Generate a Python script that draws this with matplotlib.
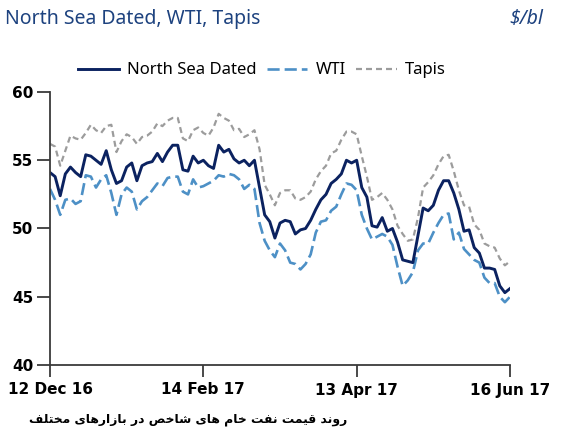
import numpy as np
import matplotlib
matplotlib.use("Agg")
import matplotlib.pyplot as plt

# ---------------------------------------
# Data ($/bl)
# ---------------------------------------
dates = ["12 Dec 16", "14 Feb 17", "13 Apr 17", "16 Jun 17"]
date_pos = [0, 30, 60, 90]

north_sea = [54.1, 53.8, 52.4, 54.0, 54.5, 54.1, 53.8, 55.4, 55.3, 55.0,
             54.7, 55.7, 54.3, 53.3, 53.5, 54.5, 54.8, 53.5, 54.6, 54.8,
             54.9, 55.5, 54.9, 55.6, 56.1, 56.1, 54.3, 54.2, 55.3, 54.8,
             55.0, 54.6, 54.4, 56.1, 55.6, 55.8, 55.1, 54.8, 55.0, 54.6,
             55.0, 53.0, 51.0, 50.5, 49.3, 50.4, 50.6, 50.5, 49.6, 49.9,
             50.0, 50.6, 51.4, 52.1, 52.5, 53.3, 53.6, 54.0, 55.0, 54.8,
             55.0, 53.0, 52.3, 50.2, 50.1, 50.8, 49.8, 50.0, 49.0, 47.7,
             47.6, 47.5, 49.5, 51.5, 51.3, 51.7, 52.8, 53.5, 53.5, 52.6,
             51.4, 49.8, 49.9, 48.6, 48.2, 47.1, 47.1, 47.0, 45.8, 45.3,
             45.6]

wti = [52.9, 52.1, 51.0, 52.1, 52.2, 51.8, 52.0, 53.9, 53.8, 53.0,
       53.6, 53.9, 52.6, 51.0, 52.5, 53.0, 52.7, 51.4, 52.0, 52.3,
       52.8, 53.3, 53.1, 53.7, 53.8, 53.8, 52.7, 52.5, 53.6, 53.0,
       53.1, 53.3, 53.5, 53.9, 53.8, 54.0, 53.9, 53.6, 52.9, 53.2,
       52.9, 50.4, 49.1, 48.4, 47.9, 48.9, 48.4, 47.5, 47.4, 47.0,
       47.4, 48.1, 49.7, 50.5, 50.6, 51.3, 51.6, 52.5, 53.3, 53.2,
       52.8, 51.0, 50.0, 49.2, 49.4, 49.6, 49.4, 48.8, 47.2, 45.8,
       46.2, 46.8, 48.4, 48.9, 48.9, 49.7, 50.4, 51.0, 51.1, 49.2,
       49.7, 48.5, 48.1, 47.7, 47.5, 46.4, 46.0, 46.0, 45.0, 44.6,
       45.0]

tapis = [56.2, 56.0, 54.6, 55.7, 56.8, 56.6, 56.5, 57.0, 57.6, 57.2,
         57.0, 57.5, 57.6, 55.6, 56.4, 56.9, 56.7, 56.2, 56.7, 56.8,
         57.1, 57.7, 57.5, 57.9, 58.1, 58.1, 56.6, 56.4, 57.2, 57.4,
         57.0, 56.8, 57.4, 58.4, 58.1, 57.9, 57.2, 57.3, 56.7, 56.9,
         57.2, 55.8, 53.2, 52.5, 51.7, 52.6, 52.8, 52.8, 52.2, 52.1,
         52.3, 52.7, 53.6, 54.2, 54.6, 55.5, 55.7, 56.5, 57.1, 57.1,
         56.9, 55.3, 53.8, 52.1, 52.3, 52.6, 52.1, 51.4, 50.2, 49.6,
         49.1, 49.2, 50.8, 53.0, 53.4, 53.9, 54.7, 55.3, 55.4, 54.2,
         52.8, 51.7, 51.6, 50.3, 49.9, 48.9, 48.7, 48.6, 47.8, 47.3,
         47.6]

title = "North Sea Dated, WTI, Tapis"
unit = "\\$/bl"
caption = "روند قیمت نفت خام های شاخص در بازارهای مختلف"

# ---------------------------------------
# Persian shaping (matplotlib has no RTL / joining)
# iso, fin, ini, med
# ---------------------------------------
FORMS = {
    'ا': ('\ufe8d', '\ufe8e'),
    'ب': ('\ufe8f', '\ufe90', '\ufe91', '\ufe92'),
    'ت': ('\ufe95', '\ufe96', '\ufe97', '\ufe98'),
    'خ': ('\ufea5', '\ufea6', '\ufea7', '\ufea8'),
    'د': ('\ufea9', '\ufeaa'),
    'ر': ('\ufead', '\ufeae'),
    'ز': ('\ufeaf', '\ufeb0'),
    'ش': ('\ufeb5', '\ufeb6', '\ufeb7', '\ufeb8'),
    'ص': ('\ufeb9', '\ufeba', '\ufebb', '\ufebc'),
    'ف': ('\ufed1', '\ufed2', '\ufed3', '\ufed4'),
    'ق': ('\ufed5', '\ufed6', '\ufed7', '\ufed8'),
    'ل': ('\ufedd', '\ufede', '\ufedf', '\ufee0'),
    'م': ('\ufee1', '\ufee2', '\ufee3', '\ufee4'),
    'ن': ('\ufee5', '\ufee6', '\ufee7', '\ufee8'),
    'ه': ('\ufee9', '\ufeea', '\ufeeb', '\ufeec'),
    'و': ('\ufeed', '\ufeee'),
    'ی': ('\ufbfc', '\ufbfd', '\ufbfe', '\ufbff'),
}


def shape_rtl(text):
    out = []
    for k, ch in enumerate(text):
        if ch not in FORMS:
            out.append(ch)
            continue
        prev = text[k - 1] if k > 0 else ' '
        nxt = text[k + 1] if k + 1 < len(text) else ' '
        f = FORMS[ch]
        join_prev = prev in FORMS and len(FORMS[prev]) == 4
        join_next = len(f) == 4 and nxt in FORMS
        if join_prev and join_next:
            out.append(f[3])
        elif join_prev:
            out.append(f[1])
        elif join_next:
            out.append(f[2])
        else:
            out.append(f[0])
    return ''.join(reversed(out))


plt.rcParams['font.family'] = ['Noto Sans', 'DejaVu Sans']

navy = '#0b2260'
blue = '#4d90c6'
grey = '#9c9c9c'
title_col = '#1d427f'
axis_col = '#3a3a3a'

fig = plt.figure(figsize=(5.76, 4.42), dpi=100)
ax = fig.add_axes([50 / 576, 1 - 365 / 442, 460 / 576, 273 / 442])

x = np.arange(len(north_sea))
l_tap, = ax.plot(x, tapis, color=grey, lw=1.6, dashes=(2.7, 1.8))
l_wti, = ax.plot(x, wti, color=blue, lw=1.9, dashes=(4.6, 1.9))
l_nsd, = ax.plot(x, north_sea, color=navy, lw=2.1)

ax.set_xlim(0, len(north_sea) - 1)
ax.set_ylim(40, 60)
ax.set_yticks([40, 45, 50, 55, 60])
ax.set_xticks(date_pos)
ax.set_xticklabels(dates)

for side in ['top', 'right']:
    ax.spines[side].set_visible(False)
for side in ['left', 'bottom']:
    ax.spines[side].set_color(axis_col)
    ax.spines[side].set_linewidth(1.3)

ax.tick_params(axis='y', direction='out', length=9.5, width=1.3,
               color=axis_col, pad=2.5)
ax.tick_params(axis='x', direction='out', length=8.6, width=1.3,
               color=axis_col, pad=4)
for lab in ax.get_xticklabels() + ax.get_yticklabels():
    lab.set_fontfamily('DejaVu Sans')
    lab.set_fontweight('bold')
    lab.set_fontsize(11)

fig.legend([l_nsd, l_wti, l_tap], ["North Sea Dated", "WTI", "Tapis"],
           loc='center', bbox_to_anchor=(262 / 576, 1 - 70.5 / 442),
           ncol=3, frameon=False, fontsize=12, handlelength=2.45,
           handletextpad=0.5, columnspacing=0.6, borderpad=0)

fig.text(5 / 576, 1 - 19 / 442, title, ha='left', va='center',
         fontsize=14, color=title_col)
fig.text(543 / 576, 1 - 19 / 442, unit, ha='right', va='center',
         fontsize=14, color=title_col, style='italic')

fig.text(347 / 576, 1 - 419 / 442, shape_rtl(caption), ha='right',
         va='center', fontsize=8.9, fontweight='bold',
         family=['DejaVu Sans'])

fig.savefig("out.png", dpi=100)
